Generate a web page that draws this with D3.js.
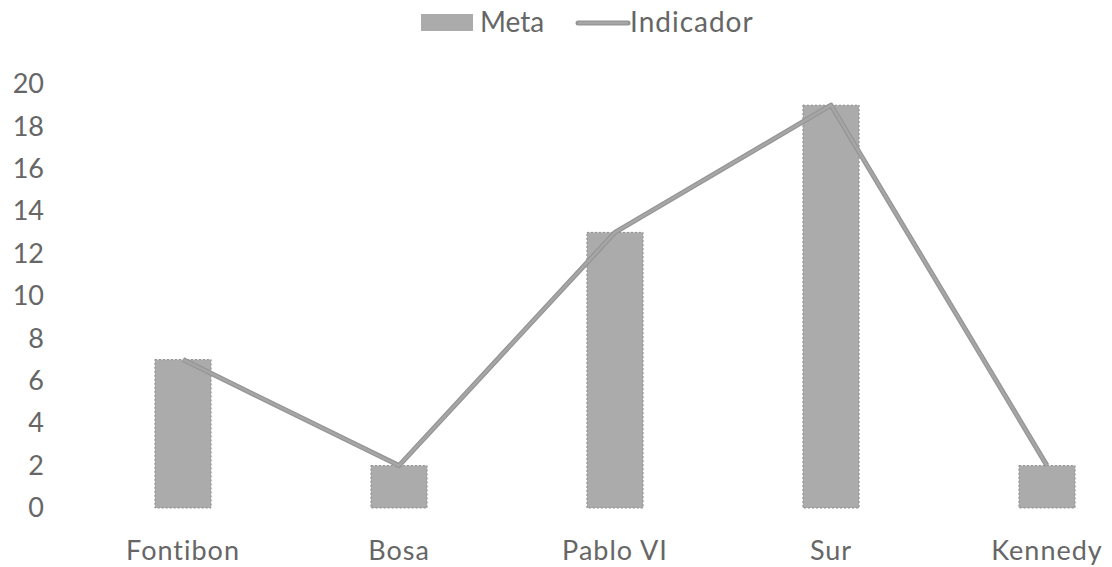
<!DOCTYPE html>
<html>
<head>
<meta charset="utf-8">
<script src="https://cdn.jsdelivr.net/npm/d3@7"></script>
<style>
  body { margin: 0; background: #fff; }
  text { font-family: Lato, "Open Sans", sans-serif; fill: #666; }
</style>
</head>
<body>
<svg width="1112" height="567"></svg>
<script>
  // data
  const categories = ["Fontibon", "Bosa", "Pablo VI", "Sur", "Kennedy"];
  const meta = [7, 2, 13, 19, 2];
  const indicador = [7, 2, 13, 19, 2];
  const yTicks = [0, 2, 4, 6, 8, 10, 12, 14, 16, 18, 20];

  const svg = d3.select("svg");

  const x = d3.scaleBand().domain(categories).range([75, 1155]).paddingInner(0.74).paddingOuter(0.37);
  const y = d3.scaleLinear().domain([0, 20]).range([508, 84]);

  // y axis labels (no line, no ticks)
  const yAxis = svg.append("g")
    .attr("transform", "translate(44,0)")
    .call(d3.axisLeft(y).tickValues(yTicks).tickSize(0).tickPadding(0));
  yAxis.select(".domain").remove();
  yAxis.selectAll("text")
    .attr("font-size", 27)
    .style("font-family", "Lato, 'Open Sans', sans-serif")
    .attr("fill", "#666");

  // bars
  svg.selectAll("rect.bar")
    .data(meta)
    .enter().append("rect")
    .attr("class", "bar")
    .attr("x", (d, i) => x(categories[i]))
    .attr("y", d => y(d))
    .attr("width", x.bandwidth())
    .attr("height", d => y(0) - y(d))
    .attr("fill", "#ababab")
    .attr("stroke", "#8c8c8c")
    .attr("stroke-width", 1)
    .attr("stroke-dasharray", "2,2");

  // line
  const line = d3.line()
    .x((d, i) => x(categories[i]) + x.bandwidth() / 2)
    .y(d => y(d));

  svg.append("path")
    .datum(indicador)
    .attr("d", line)
    .attr("fill", "none")
    .attr("stroke", "#959595")
    .attr("stroke-width", 5)
    .attr("stroke-linejoin", "round");
  svg.append("path")
    .datum(indicador)
    .attr("d", line)
    .attr("fill", "none")
    .attr("stroke", "#a6a6a6")
    .attr("stroke-width", 2.5)
    .attr("stroke-linejoin", "round");

  // x axis labels
  const xAxis = svg.append("g")
    .attr("transform", "translate(0,541)")
    .call(d3.axisBottom(x).tickSize(0).tickPadding(0));
  xAxis.select(".domain").remove();
  xAxis.selectAll("text")
    .attr("font-size", 27)
    .attr("dy", "0.71em")
    .attr("letter-spacing", 1)
    .style("font-family", "Lato, 'Open Sans', sans-serif")
    .attr("fill", "#666");

  // legend
  const legend = svg.append("g");
  legend.append("rect")
    .attr("x", 421).attr("y", 14)
    .attr("width", 52).attr("height", 17)
    .attr("fill", "#ababab");
  legend.append("text")
    .attr("x", 480).attr("y", 32)
    .attr("font-size", 28)
    .text("Meta");
  legend.append("line")
    .attr("x1", 578).attr("x2", 628)
    .attr("y1", 23).attr("y2", 23)
    .attr("stroke", "#959595")
    .attr("stroke-width", 5)
    .attr("stroke-linecap", "round");
  legend.append("line")
    .attr("x1", 578).attr("x2", 628)
    .attr("y1", 23).attr("y2", 23)
    .attr("stroke", "#a6a6a6")
    .attr("stroke-width", 2.5);
  legend.append("text")
    .attr("x", 630).attr("y", 32)
    .attr("font-size", 28)
    .attr("letter-spacing", 1)
    .text("Indicador");
</script>
</body>
</html>
